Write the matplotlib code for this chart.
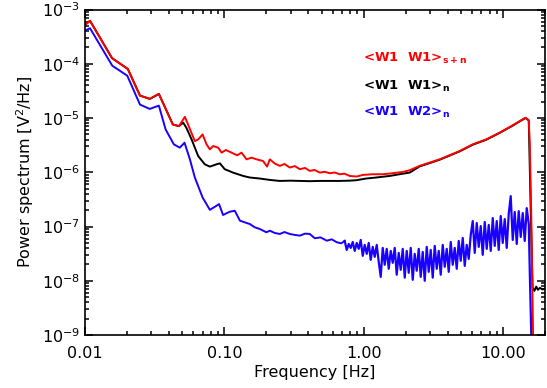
import matplotlib
matplotlib.use('Agg')
import matplotlib.pyplot as plt
from matplotlib.ticker import FixedLocator, FixedFormatter, NullFormatter

# <W1 W1>_s+n  (red)
red_freq = [0.0100, 0.01086, 0.01563, 0.0203, 0.0248, 0.0292, 0.0339, 0.0427, 0.0472, 0.0521,
            0.0614, 0.0649, 0.0698, 0.0745, 0.0787, 0.0831, 0.0903, 0.0955, 0.1025, 0.1126,
            0.1235, 0.1328, 0.1443, 0.1567, 0.1702, 0.1897, 0.2027, 0.2120, 0.230, 0.250,
            0.270, 0.295, 0.320, 0.348, 0.380, 0.410, 0.445, 0.484, 0.525, 0.570, 0.620,
            0.672, 0.730, 0.794, 0.891, 0.984, 1.16, 1.368, 1.61, 1.90, 2.14, 2.52, 3.51,
            4.88, 6.06, 7.57, 9.44, 11.7, 13.8, 14.5, 15.3, 15.55, 15.95, 16.45]
red_power = [5.2e-4, 6.2e-4, 1.27e-4, 8.0e-5, 2.59e-5, 2.25e-5, 2.78e-5, 7.6e-6, 7.08e-6, 1.05e-5,
             3.75e-6, 4.03e-6, 4.98e-6, 3.27e-6, 2.64e-6, 3.04e-6, 2.84e-6, 2.30e-6, 2.57e-6, 2.30e-6,
             2.05e-6, 2.30e-6, 1.73e-6, 1.86e-6, 1.73e-6, 1.61e-6, 1.27e-6, 1.73e-6, 1.45e-6, 1.31e-6,
             1.42e-6, 1.22e-6, 1.30e-6, 1.14e-6, 1.20e-6, 1.06e-6, 1.10e-6, 9.87e-7, 1.02e-6, 9.59e-7,
             9.9e-7, 9.19e-7, 9.4e-7, 8.55e-7, 8.33e-7, 8.92e-7, 9.19e-7, 9.19e-7, 9.59e-7, 1.01e-6,
             1.09e-6, 1.31e-6, 1.73e-6, 2.46e-6, 3.27e-6, 4.03e-6, 5.35e-6, 7.3e-6, 9.4e-6, 1.01e-5,
             9.1e-6, 3.5e-6, 1.5e-7, 8e-10]

# <W1 W1>_n  (black)
black_freq = [0.0100, 0.01086, 0.01563, 0.0203, 0.0248, 0.0292, 0.0339, 0.0427, 0.0472, 0.0507,
              0.0534, 0.0582, 0.0649, 0.0724, 0.0787, 0.0878, 0.0929, 0.1006, 0.1152, 0.1365,
              0.1523, 0.1797, 0.2120, 0.250, 0.300, 0.348, 0.410, 0.484, 0.570, 0.672, 0.794,
              0.885, 1.04, 1.23, 1.535, 1.81, 2.14, 2.52, 3.51, 4.88, 6.06, 7.57, 9.44, 11.7,
              13.8, 14.5, 15.3, 15.8, 16.3, 16.8, 17.3, 17.8, 18.4, 19.2, 20.0]
black_power = [5.2e-4, 6.2e-4, 1.27e-4, 8.0e-5, 2.59e-5, 2.25e-5, 2.78e-5, 7.6e-6, 7.08e-6, 8.17e-6,
               6.61e-6, 4.03e-6, 1.99e-6, 1.40e-6, 1.27e-6, 1.40e-6, 1.46e-6, 1.14e-6, 9.87e-7, 8.55e-7,
               8.0e-7, 7.66e-7, 7.22e-7, 6.92e-7, 7.0e-7, 6.92e-7, 6.85e-7, 6.92e-7, 6.92e-7, 6.92e-7,
               7.0e-7, 7.13e-7, 7.66e-7, 8.0e-7, 8.55e-7, 9.19e-7, 9.87e-7, 1.28e-6, 1.70e-6, 2.42e-6,
               3.22e-6, 3.97e-6, 5.3e-6, 7.2e-6, 9.3e-6, 1.0e-5, 9.0e-6, 2.0e-7, 7.5e-9, 6.5e-9,
               7.8e-9, 6.8e-9, 7.4e-9, 6.9e-9, 7.2e-9]

# <W1 W2>_n  (blue), smooth low-frequency part
blue_freq = [0.0100, 0.01086, 0.0157, 0.0201, 0.0248, 0.0291, 0.0339, 0.0379, 0.0434, 0.0479,
             0.0518, 0.0566, 0.0614, 0.0698, 0.0787, 0.0878, 0.0916, 0.0979, 0.1092, 0.1188,
             0.1294, 0.1405, 0.1524, 0.1652, 0.1797, 0.2004, 0.2120, 0.230, 0.250, 0.270,
             0.295, 0.320, 0.348, 0.380, 0.410, 0.446, 0.490, 0.543, 0.590, 0.640, 0.690]
blue_power = [4.08e-4, 4.52e-4, 9.19e-5, 6.03e-5, 1.77e-5, 1.47e-5, 1.69e-5, 6.15e-6, 3.27e-6, 2.84e-6,
              3.5e-6, 1.73e-6, 8.0e-7, 3.43e-7, 2.03e-7, 2.41e-7, 2.59e-7, 1.63e-7, 1.87e-7, 1.95e-7,
              1.28e-7, 1.19e-7, 1.11e-7, 9.67e-8, 9.0e-8, 7.83e-8, 8.37e-8, 7.6e-8, 7.28e-8, 7.9e-8,
              7.28e-8, 7.0e-8, 6.78e-8, 7.4e-8, 7.28e-8, 6.07e-8, 6.3e-8, 5.48e-8, 5.8e-8, 5.13e-8,
              4.9e-8]

# <W1 W2>_n  (blue), noisy high-frequency part (peaks and troughs)
blue_hf_freq = [0.731, 0.7556, 0.7810, 0.8072, 0.8343, 0.8624, 0.8913, 0.9213, 0.9522, 0.9842,
                1.0173, 1.0515, 1.0868, 1.1233, 1.1611, 1.2001, 1.2404, 1.2821, 1.3252, 1.3697,
                1.4157, 1.4633, 1.5125, 1.5633, 1.6158, 1.6701, 1.7262, 1.7842, 1.8442, 1.9062,
                1.9702, 2.0364, 2.1048, 2.1756, 2.2487, 2.3242, 2.4023, 2.4831, 2.5665, 2.6527,
                2.7419, 2.8340, 2.9292, 3.0277, 3.1294, 3.2346, 3.3433, 3.4556, 3.5717, 3.6917,
                3.8158, 3.9440, 4.0765, 4.2135, 4.3551, 4.5014, 4.6527, 4.8090, 4.9706, 5.1376,
                5.3103, 5.4887, 5.6731, 5.8638, 6.0608, 6.2645, 6.4750, 6.6926, 6.9175, 7.1499,
                7.3902, 7.6385, 7.8952, 8.1605, 8.4347, 8.7181, 9.0111, 9.3139, 9.6269, 9.9504,
                10.285, 10.630, 10.988, 11.357, 11.739, 12.133, 12.541, 12.962, 13.398, 13.848,
                14.313, 14.794, 15.3, 15.6, 16.0]
blue_hf_power = [5.42e-8, 3.70e-8, 4.77e-8, 4.03e-8, 5.19e-8, 3.55e-8, 4.98e-8, 3.87e-8, 5.65e-8, 2.88e-8,
                 4.58e-8, 3.13e-8, 4.98e-8, 2.43e-8, 4.21e-8, 2.76e-8, 4.58e-8, 2.23e-8, 1.18e-8, 4.03e-8,
                 1.97e-8, 3.87e-8, 1.66e-8, 3.55e-8, 2.14e-8, 4.03e-8, 1.29e-8, 3.26e-8, 1.59e-8, 3.87e-8,
                 1.14e-8, 3.55e-8, 1.40e-8, 4.03e-8, 1.04e-8, 3.13e-8, 1.53e-8, 3.87e-8, 1.18e-8, 3.40e-8,
                 1.00e-8, 4.21e-8, 1.46e-8, 3.70e-8, 1.14e-8, 4.39e-8, 1.66e-8, 3.55e-8, 1.29e-8, 4.58e-8,
                 1.81e-8, 3.87e-8, 1.46e-8, 5.19e-8, 1.97e-8, 4.03e-8, 1.66e-8, 5.42e-8, 2.33e-8, 6.15e-8,
                 1.88e-8, 4.58e-8, 2.53e-8, 6.98e-8, 1.26e-7, 3.26e-8, 1.16e-7, 4.21e-8, 1.02e-7, 3.00e-8,
                 1.21e-7, 3.87e-8, 1.07e-7, 3.55e-8, 1.43e-7, 4.39e-8, 1.26e-7, 3.70e-8, 1.56e-7, 4.98e-8,
                 1.37e-7, 4.03e-8, 1.70e-7, 3.63e-7, 5.65e-8, 1.85e-7, 4.77e-8, 1.92e-7, 6.42e-8, 1.77e-7,
                 5.42e-8, 2.18e-7, 1.11e-7, 1.09e-8, 7e-10]

x_ticks = [0.01, 0.1, 1.0, 10.0]
x_tick_labels = ['0.01', '0.10', '1.00', '10.00']

plt.rcParams['font.family'] = ['DejaVu Sans']
plt.rcParams['mathtext.fontset'] = 'dejavusans'

fig = plt.figure(figsize=(5.47, 3.88), dpi=100)
ax = fig.add_axes([0.1554, 0.1366, 0.8409, 0.8389])

blue = '#1a00ff'
ax.plot(blue_freq + blue_hf_freq[:1], blue_power + blue_hf_power[:1], color=blue, lw=1.4)
ax.plot(blue_hf_freq, blue_hf_power, color=blue, lw=1.6)
ax.plot(black_freq, black_power, color='black', lw=1.4)
ax.plot(red_freq, red_power, color='#ff0000', lw=1.4)

ax.set_xscale('log')
ax.set_yscale('log')
ax.set_xlim(0.01, 20)
ax.set_ylim(1e-9, 1e-3)

ax.xaxis.set_major_locator(FixedLocator(x_ticks))
ax.xaxis.set_major_formatter(FixedFormatter(x_tick_labels))
ax.xaxis.set_minor_formatter(NullFormatter())
ax.yaxis.set_minor_formatter(NullFormatter())

for side in ax.spines.values():
    side.set_linewidth(1.2)
ax.tick_params(which='both', direction='in', top=True, right=True, labelsize=11.5, width=1.1)
ax.tick_params(which='major', length=6)
ax.tick_params(which='minor', length=3)
ax.tick_params(axis='x', pad=8)

ax.set_xlabel('Frequency [Hz]', fontsize=11.5, labelpad=2.5)
ax.set_ylabel('Power spectrum [V$^2$/Hz]', fontsize=11.5, labelpad=4)

ax.text(0.604, 0.851, '<W1  W1>$_{\\mathbf{s+n}}$', color='#ff0000', transform=ax.transAxes,
        fontsize=9.5, fontweight='bold', va='center')
ax.text(0.604, 0.765, '<W1  W1>$_{\\mathbf{n}}$', color='black', transform=ax.transAxes,
        fontsize=9.5, fontweight='bold', va='center')
ax.text(0.604, 0.684, '<W1  W2>$_{\\mathbf{n}}$', color=blue, transform=ax.transAxes,
        fontsize=9.5, fontweight='bold', va='center')

plt.savefig('out.png', dpi=100)
